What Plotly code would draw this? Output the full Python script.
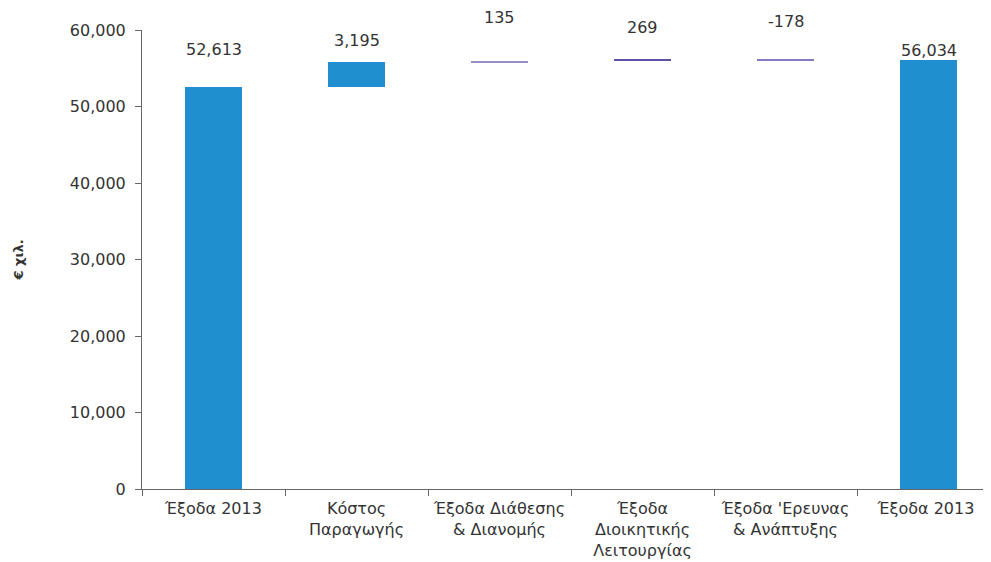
import plotly.graph_objects as go

categories = ["Έξοδα 2013", "Κόστος<br>Παραγωγής", "Έξοδα Διάθεσης<br>& Διανομής",
              "Έξοδα<br>Διοικητικής<br>Λειτουργίας", "Έξοδα 'Ερευνας<br>& Ανάπτυξης", "Έξοδα 2013 "]
values = [52613, 3195, 135, 269, -178, 56034]
measures = ["absolute", "relative", "relative", "relative", "relative", "total"]
labels = ["52,613", "3,195", "135", "269", "-178", "56,034"]
colors = ["#1f8fcf", "#1f8fcf", "#968ecb", "#5e50a8", "#8479c2", "#1f8fcf"]
label_shift = [37, 22, 44, 31, 37, 10]
y_title = "€ χιλ."

# compute bases/heights from data
bases, heights, tops = [], [], []
running = 0
for v, m in zip(values, measures):
    if m == "absolute":
        bases.append(0); heights.append(v); running = v
    elif m == "total":
        bases.append(0); heights.append(running)
    else:
        lo = running
        running = running + v
        if v >= 0:
            bases.append(lo); heights.append(v)
        else:
            bases.append(running); heights.append(-v)
    tops.append(bases[-1] + heights[-1])

font = "DejaVu Sans, Verdana, sans-serif"
fs = 16
fig = go.Figure()
fig.add_trace(go.Bar(x=categories, y=heights, base=bases, marker_color=colors,
                     marker_line_width=0, width=0.405, hoverinfo="skip"))

for c, t, lab, s in zip(categories, tops, labels, label_shift):
    fig.add_annotation(x=c, y=t, text=lab, showarrow=False, yanchor="middle",
                       yshift=s, font=dict(family=font, size=fs, color="#333333"))

fig.add_annotation(xref="paper", yref="paper", x=-124 / 849, y=0.5, text="<b>" + y_title + "</b>",
                   textangle=-90, showarrow=False, xanchor="center", yanchor="middle",
                   font=dict(family=font, size=13, color="#333333"))

fig.update_layout(
    width=991, height=562, plot_bgcolor="white", paper_bgcolor="white",
    margin=dict(l=134, r=8, t=22, b=81), showlegend=False,
    font=dict(family=font, size=fs, color="#333333"),
    xaxis=dict(range=[-0.5, 5.437], showline=True, linecolor="#666666", linewidth=1,
               ticks="outside", tickson="boundaries", ticklen=6, tickcolor="#666666",
               showgrid=False, automargin=False, ticklabelstandoff=5,
               tickfont=dict(size=fs, family=font, color="#333333")),
    yaxis=dict(range=[0, 60000], dtick=10000, tickformat=",", showline=True,
               linecolor="#666666", linewidth=1, ticks="outside", ticklen=6,
               tickcolor="#666666", showgrid=False, zeroline=False, automargin=False,
               ticklabelstandoff=6,
               tickfont=dict(size=fs, family=font, color="#333333")),
    bargap=0,
)
fig.write_html("out.html")
